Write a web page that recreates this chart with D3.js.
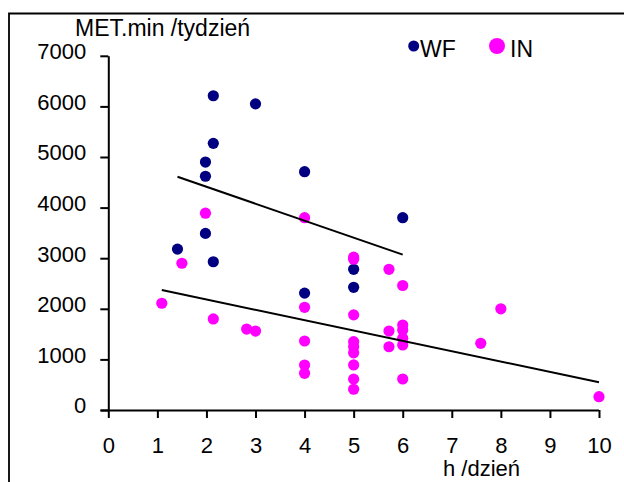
<!DOCTYPE html>
<html><head><meta charset="utf-8">
<script src="https://cdn.jsdelivr.net/npm/d3@7"></script>
<style>
html,body{margin:0;padding:0;background:#fff;}
svg{display:block;font-family:"Liberation Sans",Arial,sans-serif;}
</style></head>
<body>
<svg id="chart" width="624" height="482"></svg>
<script>
const xTicks = [0,1,2,3,4,5,6,7,8,9,10];
const yTicks = [0,1000,2000,3000,4000,5000,6000,7000];
const seriesNames = ["WF","IN"];
const seriesColors = ["#000080","#FF00FF"];
const wfX = [1.41,1.98,1.98,1.98,2.14,2.14,2.14,3,4,4,5,5,6];
const wfY = [3180,4900,4620,3490,6210,5270,2930,6050,4710,2310,2780,2425,3800];
const inX = [1.09,1.5,1.98,2.14,2.82,3,4,4,4,4,4,5,5,5,5,5,5,5,5,5,5.72,5.72,5.72,6,6,6,6,6,6,7.59,8,10];
const inY = [2110,2900,3890,1800,1600,1560,3800,2030,1364,889,725,3020,2980,1880,1350,1250,1130,890,610,410,2780,1560,1250,2460,1680,1580,1417,1285,613,1318,2000,263];
// trend line end points
const wfTrendX = [1.41,6];
const wfTrendY = [4610,3070];
const inTrendX = [1.09,10];
const inTrendY = [2370,550];
const xLabel = "h /dzień";
const yLabel = "MET.min /tydzień";

const svg = d3.select("#chart");
const x = d3.scaleLinear().domain([0,10]).range([108.3,599]);
const y = d3.scaleLinear().domain([0,7000]).range([410,55.8]);

// outer frame (left and top)
svg.append("path").attr("d","M9,482V13.5H624").attr("fill","none").attr("stroke","#000").attr("stroke-width",1.8);

// axes
const xAxis = svg.append("g").attr("transform","translate(0,410)")
  .call(d3.axisBottom(x).tickValues(xTicks).tickFormat(d3.format("d")).tickSize(8).tickPadding(19).tickSizeOuter(0));
const yAxis = svg.append("g").attr("transform","translate(108.3,0)")
  .call(d3.axisLeft(y).tickValues(yTicks).tickFormat(d3.format("d")).tickSize(8).tickPadding(14).tickSizeOuter(0));
[xAxis,yAxis].forEach(g=>{
  g.select(".domain").attr("stroke","#000").attr("stroke-width",2);
  g.selectAll(".tick line").attr("stroke","#000").attr("stroke-width",2);
  g.selectAll(".tick text").attr("fill","#000").attr("font-size",22).attr("font-family","Liberation Sans, Arial, sans-serif");
});
xAxis.select(".domain").attr("d","M100.7,0.5H599");
xAxis.selectAll(".tick text").attr("dy","0.72em");
yAxis.selectAll(".tick text").attr("dy","0.13em");

// axis titles
svg.append("text").attr("x",75).attr("y",36).attr("font-size",23).text(yLabel);
svg.append("text").attr("x",443).attr("y",476).attr("font-size",22).text(xLabel);

// points
const data = [[wfX,wfY],[inX,inY]];
data.forEach((s,k)=>{
  svg.append("g").selectAll("circle").data(s[0].map((v,i)=>[v,s[1][i]])).join("circle")
    .attr("cx",d=>x(d[0])).attr("cy",d=>y(d[1])).attr("r",5.6).attr("fill",seriesColors[k]);
});

// trend lines
const line = d3.line().x(d=>x(d[0])).y(d=>y(d[1]));
[[wfTrendX,wfTrendY],[inTrendX,inTrendY]].forEach(t=>{
  svg.append("path").attr("d",line(t[0].map((v,i)=>[v,t[1][i]])))
    .attr("stroke","#000").attr("stroke-width",2).attr("fill","none");
});

// legend
const leg = [{cx:413.7,r:5.5,tx:420},{cx:497,r:8,tx:510}];
seriesNames.forEach((n,k)=>{
  svg.append("circle").attr("cx",leg[k].cx).attr("cy",46).attr("r",leg[k].r).attr("fill",seriesColors[k]);
  svg.append("text").attr("x",leg[k].tx).attr("y",56.5).attr("font-size",23).text(n);
});
</script>
</body></html>
